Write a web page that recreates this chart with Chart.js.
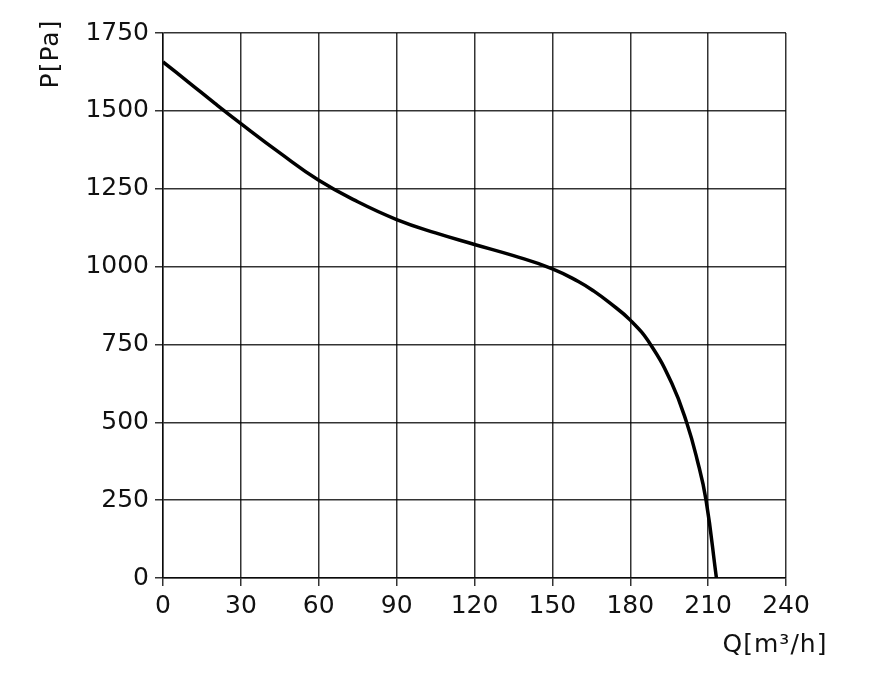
<!DOCTYPE html>
<html>
<head>
<meta charset="utf-8">
<script src="https://cdn.jsdelivr.net/npm/chart.js@4"></script>
<style>
  html, body { margin: 0; padding: 0; background: #fff; }
  #wrap { width: 875px; height: 673px; }
</style>
</head>
<body>
<div id="wrap"><canvas id="myChart" width="875" height="673"></canvas></div>
<script>
// fan curve
const flow = [0, 10, 20, 30, 45, 60, 75, 90, 105, 120, 135, 150, 160, 166, 172, 180, 187.8, 196, 201.7, 205.8, 209.2, 213.2];
const pressure = [1657, 1591, 1524, 1459, 1365, 1277, 1208, 1151, 1108, 1071, 1035, 993, 952, 921, 884, 828, 750, 625, 500, 379, 250, 0];

const xTicks = [0, 30, 60, 90, 120, 150, 180, 210, 240];
const yTicks = [0, 250, 500, 750, 1000, 1250, 1500, 1750];

const xTitle = 'Q[m³/h]';
const yTitle = 'P[Pa]';

const font = 'DejaVu Sans';
const ctx = document.getElementById('myChart').getContext('2d');

const axisTitles = {
  id: 'axisTitles',
  afterDraw(chart) {
    const c = chart.ctx;
    const a = chart.chartArea;
    c.save();
    c.fillStyle = '#111';
    c.font = '25px "' + font + '"';
    c.letterSpacing = '1px';
    c.textBaseline = 'middle';
    c.textAlign = 'center';
    c.fillText(xTitle, a.right - 11, a.bottom + 67);
    c.translate(a.left - 112, a.top + 21);
    c.rotate(-Math.PI / 2);
    c.fillText(yTitle, 0, 0);
    c.restore();
  }
};

new Chart(ctx, {
  type: 'line',
  data: {
    datasets: [{
      data: flow.map((q, i) => ({ x: q, y: pressure[i] })),
      borderColor: '#000',
      borderWidth: 3.5,
      pointRadius: 0,
      tension: 0.45,
      fill: false
    }]
  },
  options: {
    responsive: false,
    animation: false,
    layout: { padding: { left: 0, top: 33, right: 89, bottom: 0 } },
    plugins: { legend: { display: false }, tooltip: { enabled: false } },
    scales: {
      x: {
        type: 'linear',
        min: 0,
        max: 240,
        afterBuildTicks: s => { s.ticks = xTicks.map(v => ({ value: v })); },
        afterFit: s => { s.height = 95; },
        grid: { color: 'rgba(0,0,0,0.8)', lineWidth: 1.5, tickLength: 8 },
        border: { color: 'rgba(0,0,0,0.8)', width: 1.5 },
        ticks: { color: '#111', font: { family: font, size: 25 }, padding: 5, maxRotation: 0, callback: v => String(v) }
      },
      y: {
        type: 'linear',
        min: 0,
        max: 1750,
        afterBuildTicks: s => { s.ticks = yTicks.map(v => ({ value: v })); },
        afterFit: s => { s.width = 163; },
        grid: { color: 'rgba(0,0,0,0.8)', lineWidth: 1.5, tickLength: 8 },
        border: { color: 'rgba(0,0,0,0.8)', width: 1.5 },
        ticks: { color: '#111', font: { family: font, size: 25 }, padding: 6, callback: v => String(v) }
      }
    }
  },
  plugins: [axisTitles]
});
</script>
</body>
</html>
